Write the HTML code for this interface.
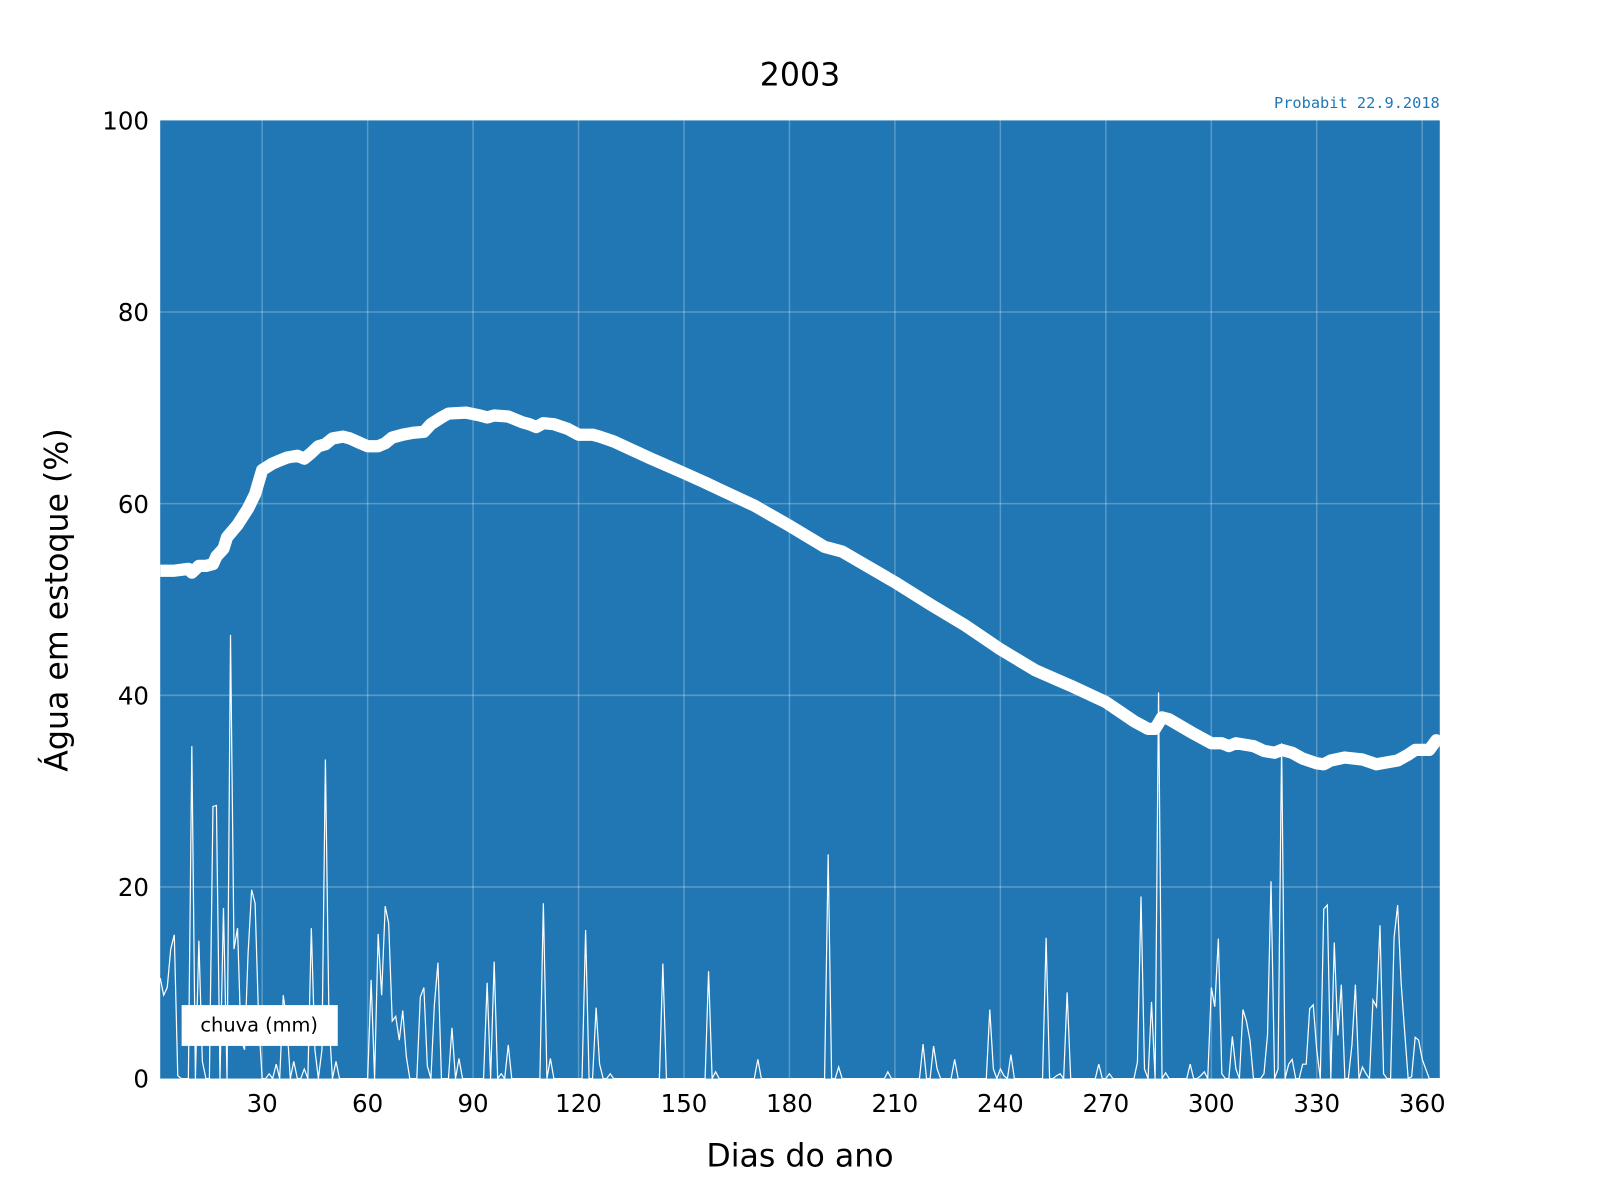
<!DOCTYPE html>
<html><head><meta charset="utf-8">
<style>
body{margin:0;background:#fff;}
svg{display:block;font-family:"DejaVu Sans","Liberation Sans",sans-serif;}
</style></head>
<body>
<svg id="chart" width="1600" height="1200" viewBox="0 0 1600 1200">
 <g transform="scale(1.0204)">
  <text x="784" y="84" font-size="31" text-anchor="middle">2003</text>
  <text x="1411" y="106" font-size="15" fill="#1f77b4" text-anchor="end" font-family="DejaVu Sans Mono, Liberation Mono, monospace">Probabit 22.9.2018</text>
  <rect x="157" y="118" width="1254" height="939" fill="#2077b4"/>
  <g id="grid"></g>
  <g id="ticks"></g>
  <g id="series"></g>
  <rect x="178" y="985" width="153" height="40" fill="#fff"/>
  <text x="254" y="1011" font-size="19" text-anchor="middle">chuva (mm)</text>
  <text x="784" y="1143" font-size="31" text-anchor="middle">Dias do ano</text>
  <text transform="translate(66,588) rotate(-90)" font-size="31" text-anchor="middle">Água em estoque (%)</text>
 </g>
</svg>
<script>
const xTicks=[30,60,90,120,150,180,210,240,270,300,330,360];
const yTicks=[0,20,40,60,80,100];
const storageDays=[1,5,9,10,12,14,16,17,19,20,23,26,28,30,33,35,37,40,42,44,46,48,50,53,55,58,60,63,65,67,70,73,76,78,81,83,88,92,94,96,100,104,106,108,110,113,117,120,124,126,130,140,150,156,160,170,180,190,195,210,220,230,240,250,260,270,278,282,284,286,288,295,300,303,305,307,312,315,318,320,323,326,330,332,334,338,343,347,350,353,356,358,362,364,365];
const storageValues=[53,53,53.2,52.8,53.5,53.5,53.7,54.5,55.3,56.5,57.8,59.5,61,63.5,64.2,64.5,64.8,65,64.7,65.3,66,66.2,66.8,67,66.8,66.3,66,66,66.3,66.9,67.2,67.4,67.5,68.3,69,69.4,69.5,69.2,69,69.2,69.1,68.5,68.3,68,68.4,68.3,67.8,67.2,67.2,67,66.5,64.8,63.2,62.2,61.5,59.8,57.7,55.5,55,51.8,49.5,47.3,44.8,42.6,41,39.3,37.3,36.5,36.5,37.7,37.5,36,35,35,34.7,35,34.7,34.2,34,34.3,34,33.4,32.9,32.8,33.2,33.5,33.3,32.8,33,33.2,33.8,34.3,34.3,35.3,35];
const rainDays=[1,2,3,4,5,6,10,12,13,16,17,19,21,22,23,24,25,26,27,28,29,32,34,36,37,39,42,44,45,47,48,49,51,61,63,64,65,66,67,68,69,70,71,75,76,77,79,80,84,86,94,96,98,100,103,110,112,122,125,126,129,144,157,159,171,191,194,208,218,221,222,227,237,238,240,241,243,253,256,257,259,268,271,279,280,281,283,285,287,294,297,298,300,301,302,303,306,307,309,310,311,315,316,317,319,320,322,323,326,327,328,329,330,332,333,335,336,337,340,341,343,344,346,347,348,349,352,353,354,355,357,358,359,360,361];
const rainValues=[10.5,8.7,9.5,13.5,15,0.3,34.7,14.4,1.8,28.4,28.5,17.8,46.3,13.5,15.7,4,3,13,19.7,18.3,6,0.5,1.5,8.7,6,1.8,1,15.7,3,3,33.3,6,1.8,10.3,15.1,8.7,18,16.2,6,6.5,4,7.1,2.3,8.5,9.5,1.3,7.7,12.1,5.3,2.1,10,12.2,0.5,3.5,0,18.3,2.1,15.5,7.4,1.5,0.5,12,11.2,0.7,2,23.4,1.2,0.7,3.6,3.4,1,2,7.2,1,1,0.3,2.5,14.7,0.3,0.5,9,1.5,0.5,1.7,19,1,8,40.3,0.6,1.5,0.3,0.7,9.5,7.5,14.6,0.5,4.4,1,7.2,6,4,0.5,4.6,20.6,1,35,1.5,2,1.5,1.5,7.3,7.7,3,17.7,18.1,14.2,4.5,9.8,3.5,9.8,1.2,0.5,8.2,7.5,16,0.5,14.7,18.1,10,5,0.2,4.3,4,2,1];

const X0=157,X1=1411,Y0=1057,Y1=118,D0=1,D1=365;
const xs=d=>X0+(d-D0)*(X1-X0)/(D1-D0);
const ys=v=>Y0-(v/100)*(Y0-Y1);
const NS='http://www.w3.org/2000/svg';
const grid=document.getElementById('grid'),ticks=document.getElementById('ticks'),series=document.getElementById('series');
function mk(tag,attrs,parent){const e=document.createElementNS(NS,tag);for(const k in attrs)e.setAttribute(k,attrs[k]);parent.appendChild(e);return e;}
xTicks.forEach(t=>{
  const l=mk('line',{x1:xs(t),x2:xs(t),y1:Y1,y2:Y0,stroke:'rgba(255,255,255,0.25)','stroke-width':1.5},grid);
  
  
  const tx=mk('text',{x:xs(t),y:1090,'font-size':24,'text-anchor':'middle'},ticks);
  tx.textContent=t;
  
  
});
yTicks.forEach(t=>{
  if(t>0&&t<100){
    const l=mk('line',{x1:X0,x2:X1,y1:ys(t),y2:ys(t),stroke:'rgba(255,255,255,0.25)','stroke-width':1.5},grid);
    
    
  }
  const tx=mk('text',{x:146,y:ys(t)+9,'font-size':24,'text-anchor':'end'},ticks);
  tx.textContent=t;
  
  
});
const rain=new Array(D1-D0+1).fill(0);
rainDays.forEach((d,i)=>{rain[d-D0]=rainValues[i];});
let rp='';
rain.forEach((v,i)=>{rp+=(i?'L':'M')+xs(i+D0).toFixed(1)+' '+ys(v).toFixed(1);});
const rainPath=mk('path',{d:rp,fill:'none',stroke:'#fff','stroke-width':1.2,'stroke-linejoin':'miter'},series);


let sp='';
storageDays.forEach((d,i)=>{sp+=(i?'L':'M')+xs(d).toFixed(1)+' '+ys(storageValues[i]).toFixed(1);});
const stPath=mk('path',{d:sp,fill:'none',stroke:'#fff','stroke-width':12,'stroke-linejoin':'round','stroke-linecap':'butt'},series);


</script>
</body></html>
